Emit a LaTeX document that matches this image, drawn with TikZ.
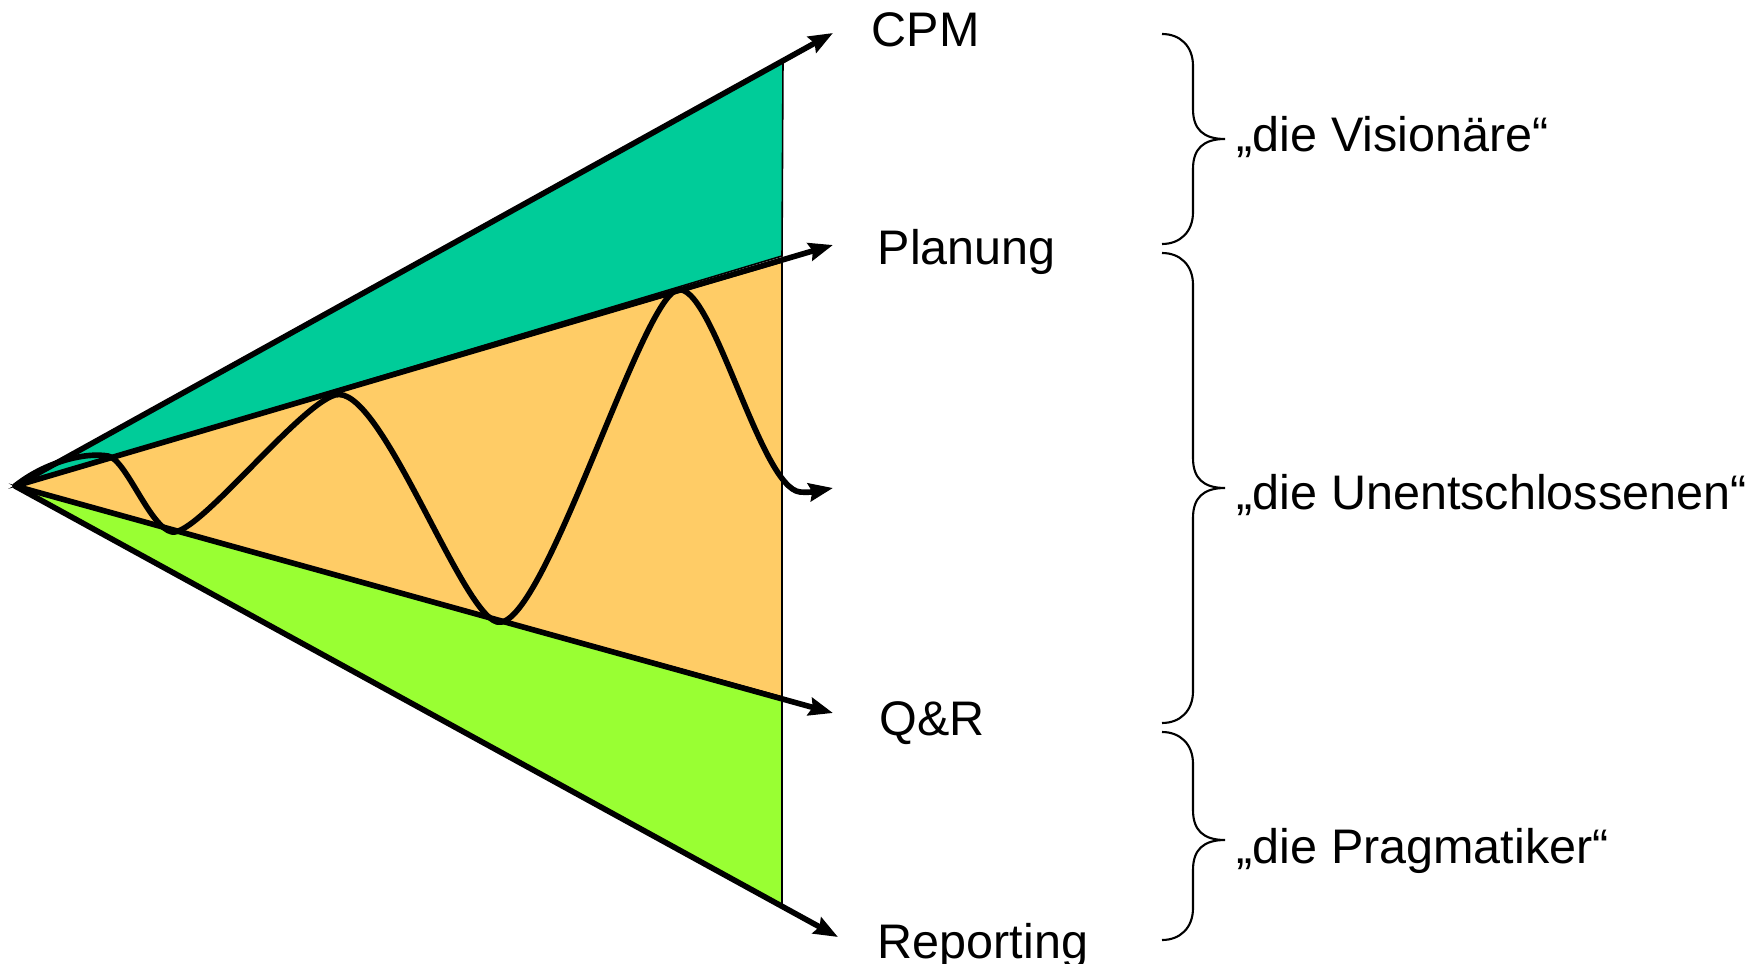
\documentclass[tikz,border=0pt]{standalone}
\usepackage{fontspec}
\setmainfont{Liberation Sans}
\usetikzlibrary{arrows.meta}
\definecolor{tealfill}{RGB}{0,204,153}
\definecolor{orangefill}{RGB}{255,204,102}
\definecolor{limefill}{RGB}{153,255,51}
% curly brace: #1 top y, #2 tip y, #3 bottom y (pixel coordinates)
\newcommand{\cbrace}[3]{%
  \draw[bracestyle] (1162,#1) .. controls (1180,#1) and (1193,#1+12) .. (1193,#1+32)
    -- (1193,#2-30) .. controls (1193,#2-10) and (1203,#2) .. (1225,#2)
    .. controls (1203,#2) and (1193,#2+10) .. (1193,#2+30)
    -- (1193,#3-32) .. controls (1193,#3-12) and (1180,#3) .. (1162,#3);}
\begin{document}
\begin{tikzpicture}[x=0.01cm,y=-0.01cm,
  thickarrow/.style={line width=1.6pt,line join=round,-{Stealth[length=0.24cm,width=0.18cm,inset=0.03cm]}},
  region/.style={draw=black,line width=0.45pt},
  lbl/.style={anchor=base west,inner sep=0pt,font=\fontsize{13.8pt}{16pt}\selectfont},
  bracestyle/.style={line width=0.6pt}]
\useasboundingbox (0,0) rectangle (1758,964);

% coordinates
\coordinate (O) at (15,486);
\coordinate (cpm) at (833,33);
\coordinate (plan) at (833,245);
\coordinate (mid) at (833,488);
\coordinate (qr) at (833,713);
\coordinate (rep) at (838,937);

% regions
\filldraw[region,fill=tealfill] (O) -- (783,60) -- (782,256) -- cycle;
\filldraw[region,fill=orangefill] (O) -- (782,262) -- (782,697) -- cycle;
\filldraw[region,fill=limefill] (O) -- (782,697) -- (782,905) -- cycle;

% rays
\draw[thickarrow] (O) -- (cpm);
\draw[thickarrow] (O) -- (plan);
\draw[thickarrow] (O) -- (qr);
\draw[thickarrow] (O) -- (rep);

% wave
\draw[thickarrow,line cap=round] (O) .. controls (45,462) and (85,452) .. (108,456)
  .. controls (126,459) and (150,528) .. (172,532)
  .. controls (197,536.5) and (298,406) .. (335,395)
  .. controls (380,382) and (460,612) .. (497,622)
  .. controls (542,634) and (640,301) .. (677,290)
  .. controls (712,280) and (760,488) .. (800,492)
  .. controls (812,493.2) and (822,490) .. (mid);

% ray labels
\node[lbl] (tcpm) at (871,47) {CPM};
\node[lbl] (tplan) at (877,265) {Planung};
\node[lbl] (tqr) at (879,735) {Q\&R};
\node[lbl] (trep) at (877,958) {Reporting};

% braces
\cbrace{34}{139}{244}
\cbrace{253}{488}{723}
\cbrace{732}{840}{940}

\node[lbl] (vis) at (1236,152) {„die Visionäre“};
\node[lbl] (une) at (1236,509) {„die Unentschlossenen“};
\node[lbl] (pra) at (1236,863) {„die Pragmatiker“};
\end{tikzpicture}
\end{document}
